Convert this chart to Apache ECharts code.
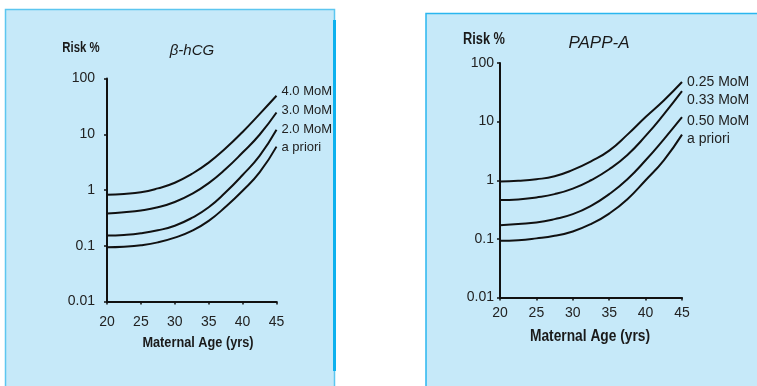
<!DOCTYPE html>
<html>
<head>
<meta charset="utf-8">
<script src="https://cdn.jsdelivr.net/npm/echarts@6/dist/echarts.min.js"></script>
<style>
html,body{margin:0;padding:0;background:#fff;}
#c{width:757px;height:386px;}
</style>
</head>
<body>
<div id="c"></div>
<script>
// ---- data ----
const ages = [20, 22.5, 25, 27.5, 30, 32.5, 35, 37.5, 40, 42.5, 45];
const yTicks = [0.01, 0.1, 1, 10, 100];
const xTicks = [20, 25, 30, 35, 40, 45];

const hcgNames = ['4.0 MoM', '3.0 MoM', '2.0 MoM', 'a priori'];
const hcg40 = [0.82, 0.85, 0.91, 1.07, 1.35, 1.94, 3.1, 5.6, 11.0, 23.0, 49];
const hcg30 = [0.38, 0.40, 0.43, 0.49, 0.61, 0.85, 1.33, 2.38, 4.7, 9.8, 24.5];
const hcg20 = [0.152, 0.156, 0.167, 0.189, 0.229, 0.315, 0.49, 0.91, 1.86, 4.1, 12];
const hcgPri = [0.094, 0.096, 0.102, 0.115, 0.14, 0.185, 0.28, 0.5, 0.97, 2.07, 6.0];

const pappNames = ['0.25 MoM', '0.33 MoM', '0.50 MoM', 'a priori'];
const papp25 = [0.95, 0.98, 1.04, 1.17, 1.5, 2.1, 3.2, 6.0, 12.0, 23.0, 47.5];
const papp33 = [0.46, 0.47, 0.51, 0.58, 0.72, 1.0, 1.54, 2.7, 5.7, 13.3, 33];
const papp50 = [0.17, 0.18, 0.19, 0.217, 0.264, 0.366, 0.58, 1.04, 2.19, 5.0, 11.9];
const pappPri = [0.093, 0.095, 0.102, 0.113, 0.134, 0.179, 0.27, 0.475, 1.0, 2.19, 6.0];

const hcgSeries = [hcg40, hcg30, hcg20, hcgPri];
const pappSeries = [papp25, papp33, papp50, pappPri];

// ---- chart ----
const FONT = "'Liberation Sans',Arial,sans-serif";
const chart = echarts.init(document.getElementById('c'), null, {renderer: 'canvas'});

function xAxisCfg(gi, margin) {
  return {
    type: 'value', gridIndex: gi, min: xTicks[0], max: xTicks[xTicks.length - 1], interval: 5,
    axisLine: {show: true, lineStyle: {color: '#111', width: 2}},
    axisTick: {show: true, length: 3, lineStyle: {color: '#111', width: 1.5}},
    splitLine: {show: false},
    axisLabel: {color: '#222', fontFamily: FONT, fontSize: 14, margin: margin}
  };
}
function yAxisCfg(gi, margin) {
  return {
    type: 'log', logBase: 10, gridIndex: gi, min: yTicks[0], max: yTicks[yTicks.length - 1],
    axisLine: {show: true, lineStyle: {color: '#111', width: 2}},
    axisTick: {show: true, length: 3, lineStyle: {color: '#111', width: 1.5}},
    minorTick: {show: false},
    splitLine: {show: false},
    axisLabel: {color: '#222', fontFamily: FONT, fontSize: 14, margin: margin,
      formatter: v => String(+v.toPrecision(3))}
  };
}

const hcgOffsets = [[0, -4], [0, -2], [0, 0], [0, 1]];
const pappOffsets = [[0, 0], [0, 9], [0, 4], [0, 5]];

const series = [];
function addSeries(list, names, offsets, gi, size) {
  list.forEach((arr, i) => {
    series.push({
      type: 'line', xAxisIndex: gi, yAxisIndex: gi, name: names[i],
      data: ages.map((a, k) => [a, arr[k]]),
      smooth: 0.5, showSymbol: false, symbol: 'none',
      lineStyle: {color: '#111', width: 2},
      endLabel: {show: true, formatter: names[i], color: '#222', fontFamily: FONT,
        fontSize: size, distance: 5, offset: offsets[i]}
    });
  });
}
addSeries(hcgSeries, hcgNames, hcgOffsets, 0, 13);
addSeries(pappSeries, pappNames, pappOffsets, 1, 14);

function txt(x, y, text, font, sx) {
  return {type: 'text', x: x, y: y, scaleX: sx, style: {text: text, fill: '#1a1a1a',
    font: font, textAlign: 'center', textVerticalAlign: 'middle'}};
}

chart.setOption({
  animation: false,
  backgroundColor: '#ffffff',
  graphic: [
    {type: 'rect', z: -10, shape: {x: 5.5, y: 9.5, width: 329, height: 380},
      style: {fill: '#c6e9f9', stroke: '#5cc6f0', lineWidth: 1.5}},
    {type: 'rect', z: -9, shape: {x: 333, y: 20, width: 3, height: 351},
      style: {fill: '#0db1ee'}},
    {type: 'rect', z: -10, shape: {x: 426, y: 13.5, width: 340, height: 380},
      style: {fill: '#c6e9f9', stroke: '#2ab6ef', lineWidth: 1.5}},
    txt(81, 48, 'Risk %', 'bold 15px ' + FONT, 0.76),
    txt(192, 51, 'β-hCG', 'italic 15px ' + FONT, 1),
    txt(198, 343, 'Maternal Age (yrs)', 'bold 15px ' + FONT, 0.85),
    txt(484, 40, 'Risk %', 'bold 16px ' + FONT, 0.8),
    txt(599, 43, 'PAPP-A', 'italic 17px ' + FONT, 1),
    txt(590, 337, 'Maternal Age (yrs)', 'bold 16px ' + FONT, 0.86)
  ],
  grid: [
    {left: 107, width: 169.5, top: 78.5, height: 223, containLabel: false},
    {left: 500, width: 182, top: 63, height: 234.5, containLabel: false}
  ],
  xAxis: [xAxisCfg(0, 14), xAxisCfg(1, 9)],
  yAxis: [yAxisCfg(0, 12), yAxisCfg(1, 6)],
  series: series
});
</script>
</body>
</html>
